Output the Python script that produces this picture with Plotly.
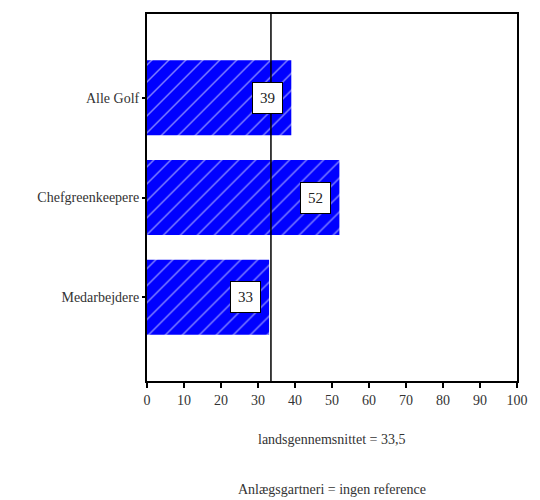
import plotly.graph_objects as go

# Data
categories = ["Alle Golf", "Chefgreenkeepere", "Medarbejdere"]
values = [39, 52, 33]
national_avg = 33.5
x_ticks = [0, 10, 20, 30, 40, 50, 60, 70, 80, 90, 100]
note_lines = ["landsgennemsnittet = 33,5", "Anlægsgartneri = ingen reference"]

serif = "Liberation Serif"

fig = go.Figure()
fig.add_trace(go.Bar(
    y=categories,
    x=values,
    orientation="h",
    width=0.75,
    marker=dict(
        color="#0000FF",
        line=dict(width=0),
        pattern=dict(shape="/", bgcolor="#0000FF", fgcolor="#FFFFFF",
                     size=12, solidity=0.12),
    ),
    hoverinfo="skip",
))

# national average reference line
fig.add_shape(type="line", xref="x", yref="paper",
              x0=national_avg, x1=national_avg, y0=0, y1=1,
              line=dict(color="black", width=1.5), layer="above")

# value boxes inside the bars
for cat, v in zip(categories, values):
    fig.add_annotation(x=v, y=cat, xref="x", yref="y", text=str(v),
                       showarrow=False, xanchor="right", xshift=-8,
                       font=dict(family=serif, size=15, color="#222"),
                       bgcolor="white", bordercolor="black", borderwidth=1,
                       borderpad=7)

# notes below the axis
for i, line in enumerate(note_lines):
    fig.add_annotation(x=0.5, y=-0.16 - i * 0.136, xref="paper", yref="paper",
                       yanchor="middle",
                       text=line, showarrow=False,
                       font=dict(family=serif, size=14, color="#333"))

fig.update_layout(
    width=540, height=500,
    margin=dict(l=147, r=16, t=13, b=119),
    paper_bgcolor="white", plot_bgcolor="white",
    showlegend=False,
    font=dict(family=serif, size=14, color="#333"),
)
fig.update_xaxes(range=[0, 100], tickvals=x_ticks, ticks="outside", ticklen=5,
                 tickwidth=2, tickcolor="black", showgrid=False, zeroline=False,
                 showline=True, linecolor="black", linewidth=2, mirror=True,
                 fixedrange=True)
fig.update_yaxes(categoryorder="array", categoryarray=categories,
                 range=[2.84, -0.84], ticks="outside", ticklen=3, tickwidth=2,
                 tickcolor="black", showgrid=False, showline=True,
                 linecolor="black", linewidth=2, mirror=True, fixedrange=True)

fig.write_html("out.html")
